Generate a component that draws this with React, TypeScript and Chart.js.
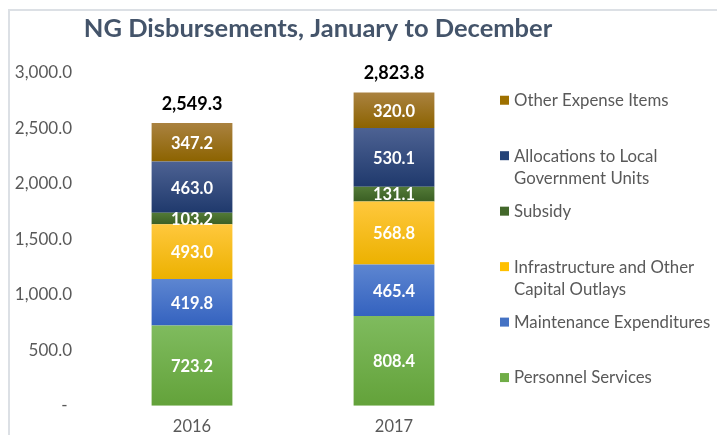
import React, { useEffect, useRef } from "react";
import { Chart, registerables } from "chart.js";

Chart.register(...registerables);

const categories = ["2016", "2017"];
const personnel = [723.2, 808.4];
const maintenance = [419.8, 465.4];
const infrastructure = [493.0, 568.8];
const subsidy = [103.2, 131.1];
const allocations = [463.0, 530.1];
const otherExpense = [347.2, 320.0];
const totals = [2549.3, 2823.8];

const seriesNames = [
  "Personnel Services",
  "Maintenance Expenditures",
  "Infrastructure and Other Capital Outlays",
  "Subsidy",
  "Allocations to Local Government Units",
  "Other Expense Items",
];
const legendLines = [
  ["Personnel Services"],
  ["Maintenance Expenditures"],
  ["Infrastructure and Other", "Capital Outlays"],
  ["Subsidy"],
  ["Allocations to Local", "Government Units"],
  ["Other Expense Items"],
];
const seriesValues = [personnel, maintenance, infrastructure, subsidy, allocations, otherExpense];
const gradTop = ["#7FBB5E", "#5D86D1", "#FFC83D", "#527A37", "#4D6293", "#AA8240"];
const gradBottom = ["#63A23A", "#3462BF", "#ECB100", "#3B5F24", "#1F396C", "#8C6300"];
const legendColors = ["#70AD47", "#4472C4", "#FFC000", "#43682B", "#264478", "#9E7000"];

const yMax = 3000;
const yStep = 500;
const FONT = "Lato, 'Noto Sans', sans-serif";

function fmt(v: number) {
  return v.toLocaleString("en-US", { minimumFractionDigits: 1, maximumFractionDigits: 1 });
}

function gradient(idx: number) {
  return (ctx: any) => {
    const chart = ctx.chart;
    const y = chart.scales && chart.scales.y;
    if (!y || ctx.type !== "data") return legendColors[idx];
    const di = ctx.datasetIndex;
    const i = ctx.dataIndex;
    let base = 0;
    for (let d = 0; d < di; d++) base += chart.data.datasets[d].data[i];
    const v = chart.data.datasets[di].data[i];
    const y0 = y.getPixelForValue(base + v);
    const y1 = y.getPixelForValue(base);
    if (!isFinite(y0) || !isFinite(y1) || y0 === y1) return legendColors[idx];
    const g = chart.ctx.createLinearGradient(0, y0, 0, y1);
    g.addColorStop(0, gradTop[idx]);
    g.addColorStop(1, gradBottom[idx]);
    return g;
  };
}

const decorPlugin = {
  id: "decor",
  beforeDraw(chart: any) {
    const c = chart.ctx;
    c.save();
    c.fillStyle = "#DCE0E5";
    c.fillRect(8, 9, chart.width - 8, 2);
    c.fillRect(8, 9, 2, chart.height - 9);
    c.restore();
  },
  afterDraw(chart: any) {
    const c = chart.ctx;
    const area = chart.chartArea;
    c.save();
    // title
    c.fillStyle = "#44546A";
    c.font = `bold 25.5px ${FONT}`;
    c.textAlign = "center";
    c.textBaseline = "alphabetic";
    c.fillText("NG Disbursements, January to December", 318, 37);

    // data labels
    c.font = `bold 16.5px ${FONT}`;
    c.fillStyle = "#FFFFFF";
    c.textBaseline = "middle";
    chart.data.datasets.forEach((ds: any, di: number) => {
      const meta = chart.getDatasetMeta(di);
      meta.data.forEach((el: any, i: number) => {
        const cy = (el.y + el.base) / 2;
        c.fillText(fmt(ds.data[i]), el.x, cy + 1);
      });
    });

    // totals
    const topMeta = chart.getDatasetMeta(chart.data.datasets.length - 1);
    c.font = `bold 18px ${FONT}`;
    c.fillStyle = "#000000";
    topMeta.data.forEach((el: any, i: number) => {
      c.fillText(fmt(totals[i]), el.x, el.y - 19);
    });

    // legend
    const step = (area.bottom - area.top) / 6;
    c.textAlign = "left";
    c.font = `16.8px ${FONT}`;
    for (let k = 0; k < 6; k++) {
      const si = 5 - k;
      const cy = area.top + (k + 0.5) * step;
      c.fillStyle = legendColors[si];
      c.fillRect(500, cy - 5, 9, 9);
      c.fillStyle = "#595959";
      legendLines[si].forEach((line, li) => {
        c.fillText(line, 514, cy + li * 22);
      });
    }
    c.restore();
  },
};

export default function App() {
  const ref = useRef<HTMLCanvasElement | null>(null);
  useEffect(() => {
    if (!ref.current) return;
    const chart = new Chart(ref.current, {
      type: "bar",
      data: {
        labels: categories,
        datasets: seriesValues.map((vals, idx) => ({
          label: seriesNames[idx],
          data: vals,
          backgroundColor: gradient(idx),
          borderWidth: 0,
          categoryPercentage: 1,
          barPercentage: 0.4,
        })),
      },
      options: {
        responsive: false,
        animation: false,
        devicePixelRatio: 1,
        layout: { padding: { top: 73, right: 222, left: 0, bottom: 0 } },
        plugins: {
          legend: { display: false },
          title: { display: false },
          tooltip: { enabled: false },
        },
        scales: {
          x: {
            stacked: true,
            grid: { display: false, drawTicks: false },
            border: { display: false },
            ticks: { color: "#595959", font: { family: FONT, size: 16.5 }, padding: 11 },
            afterFit: (s: any) => {
              s.height = 29;
            },
          },
          y: {
            stacked: true,
            min: 0,
            max: yMax,
            grid: { display: false, drawTicks: false },
            border: { display: false },
            ticks: {
              stepSize: yStep,
              color: "#595959",
              font: { family: FONT, size: 17 },
              padding: 19,
              callback: (v: any) => (Number(v) === 0 ? "- " : fmt(Number(v))),
            },
            afterFit: (s: any) => {
              s.width = 91;
            },
          },
        },
      },
      plugins: [decorPlugin],
    });
    return () => chart.destroy();
  }, []);
  return (
    <div style={{ position: "fixed", left: 0, top: 0, width: 717, height: 435, background: "#fff" }}>
      <canvas ref={ref} width={717} height={435} style={{ display: "block" }} />
    </div>
  );
}
